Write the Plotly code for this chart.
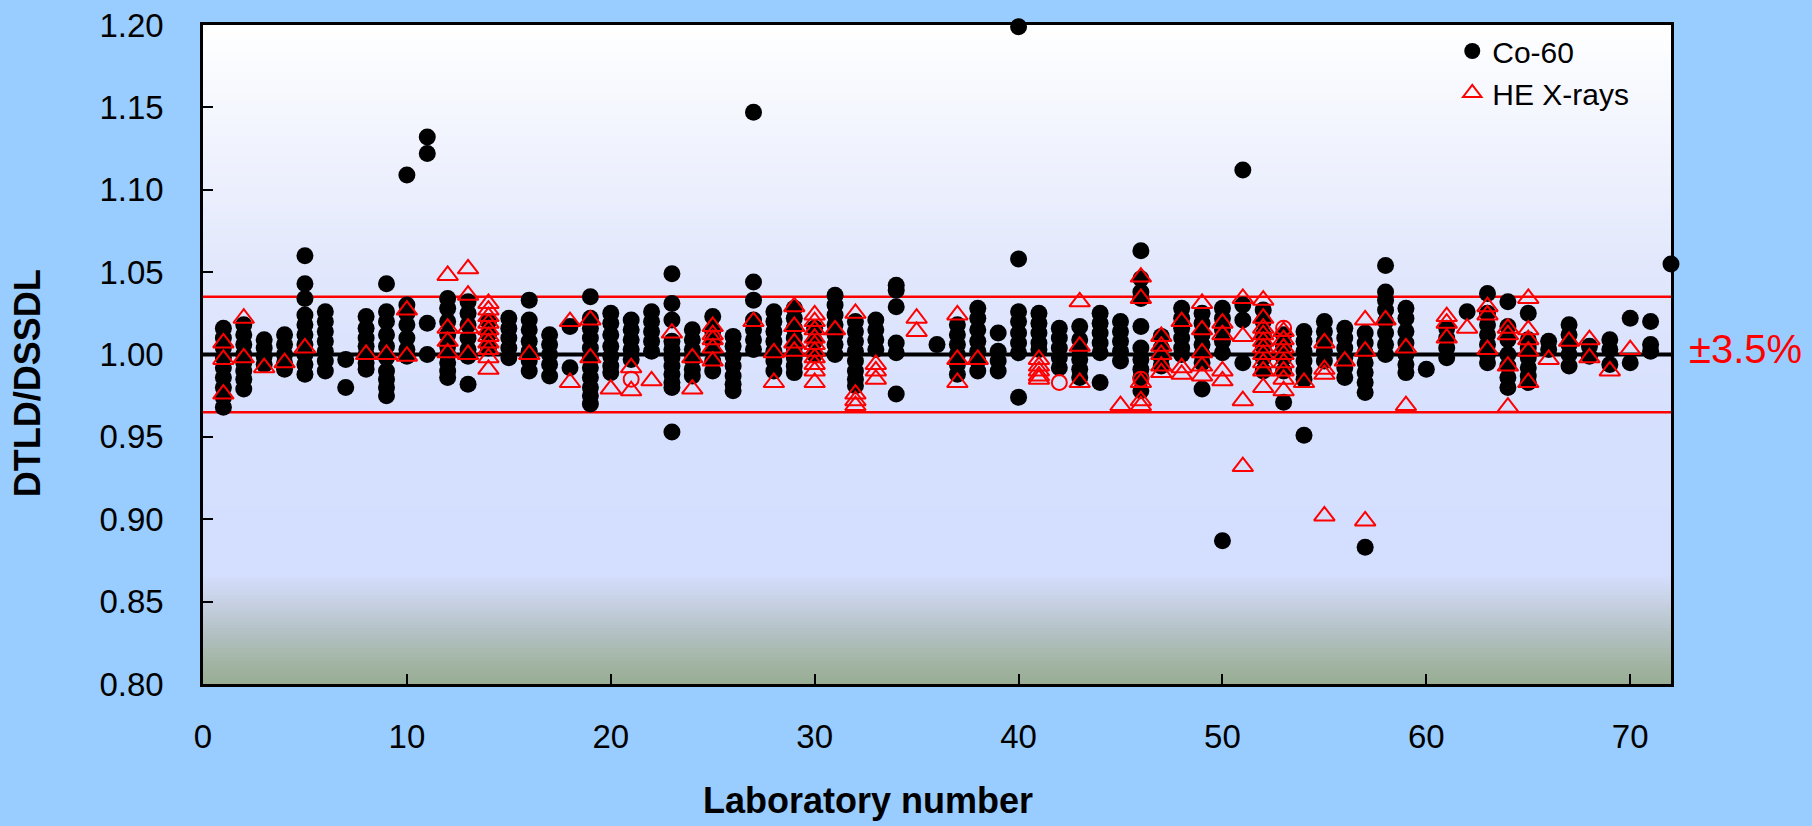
import plotly.graph_objects as go

# ---------------- data ----------------
co60_labs = [1, 2, 3, 4, 5, 6, 7, 8, 9, 10, 11, 12, 13, 14, 15, 16, 17, 18, 19, 20,
             21, 22, 23, 24, 25, 26, 27, 28, 29, 30, 31, 32, 33, 34, 36, 37, 38, 39, 40,
             41, 42, 43, 44, 45, 46, 47, 48, 49, 50, 51, 52, 53, 54, 55, 56, 57, 58, 59,
             60, 61, 62, 63, 64, 65, 66, 67, 68, 69, 70, 71, 72]
co60_values = [
    [1.016, 1.010, 1.004, 0.998, 0.992, 0.986, 0.980, 0.974, 0.968],
    [1.018, 1.012, 1.006, 1.000, 0.995, 0.990, 0.985, 0.979],
    [1.009, 1.004, 0.999, 0.994],
    [1.012, 1.006, 1.000, 0.995, 0.991],
    [1.060, 1.043, 1.034, 1.024, 1.018, 1.012, 1.006, 1.000, 0.994, 0.988],
    [1.026, 1.020, 1.014, 1.008, 1.002, 0.996, 0.990],
    [0.997, 0.980],
    [1.023, 1.016, 1.010, 1.005, 1.000, 0.995, 0.991],
    [1.043, 1.026, 1.020, 1.012, 1.005, 0.998, 0.990, 0.985, 0.980, 0.975],
    [1.109, 1.030, 1.025, 1.018, 1.010, 1.003, 0.999],
    [1.132, 1.122, 1.019, 1.000],
    [1.034, 1.028, 1.020, 1.012, 1.005, 1.000, 0.995, 0.990, 0.986],
    [1.032, 1.025, 1.018, 1.010, 1.003, 0.999, 0.982],
    [1.020, 1.012, 1.004],
    [1.022, 1.016, 1.010, 1.004, 0.998],
    [1.033, 1.021, 1.015, 1.008, 1.002, 0.996, 0.990],
    [1.012, 1.006, 1.000, 0.994, 0.987],
    [1.017, 0.992],
    [1.035, 1.022, 1.016, 1.010, 1.004, 0.998, 0.992, 0.986, 0.980, 0.975, 0.970],
    [1.025, 1.019, 1.012, 1.005, 0.999, 0.993, 0.989],
    [1.021, 1.015, 1.009, 1.003, 0.997],
    [1.026, 1.020, 1.014, 1.008, 1.002],
    [1.049, 1.031, 1.021, 1.008, 1.003, 0.998, 0.993, 0.988, 0.983, 0.980, 0.953],
    [1.015, 1.009, 1.003, 0.997, 0.991, 0.987],
    [1.023, 1.014, 1.008, 1.002, 0.996, 0.990],
    [1.011, 1.005, 0.999, 0.993, 0.987, 0.982, 0.978],
    [1.147, 1.044, 1.033, 1.021, 1.015, 1.009, 1.003],
    [1.026, 1.020, 1.014, 1.008, 1.002, 0.996, 0.990],
    [1.028, 1.022, 1.016, 1.010, 1.004, 0.998, 0.993, 0.989],
    [1.016, 1.008, 1.000],
    [1.036, 1.030, 1.024, 1.018, 1.012, 1.006, 1.000],
    [1.020, 1.014, 1.008, 1.002, 0.996, 0.990, 0.985, 0.981],
    [1.021, 1.015, 1.009, 1.003],
    [1.042, 1.039, 1.029, 1.007, 1.001, 0.976],
    [1.006],
    [1.018, 1.012, 1.006, 1.000, 0.994, 0.988],
    [1.028, 1.022, 1.015, 1.008, 1.002, 0.996, 0.990],
    [1.013, 1.002, 0.996, 0.990],
    [1.199, 1.058, 1.026, 1.020, 1.013, 1.007, 1.001, 0.974],
    [1.025, 1.019, 1.013, 1.007, 1.003],
    [1.016, 1.010, 1.004, 0.998, 0.992],
    [1.017, 1.009, 1.003, 0.997, 0.991, 0.986],
    [1.025, 1.019, 1.013, 1.007, 1.001, 0.983],
    [1.020, 1.014, 1.008, 1.002, 0.996],
    [1.063, 1.046, 1.038, 1.034, 1.017, 1.004, 0.997, 0.991, 0.986, 0.978],
    [1.011, 1.004, 0.998, 0.993],
    [1.028, 1.022, 1.016, 1.010, 1.004, 1.000],
    [1.025, 1.019, 1.012, 1.006, 1.000, 0.995, 0.979],
    [1.028, 1.022, 1.015, 1.008, 1.001, 0.887],
    [1.112, 1.030, 1.021, 0.995],
    [1.027, 1.020, 1.012, 1.005, 0.998, 0.990],
    [1.012, 1.005, 0.998, 0.990, 0.971],
    [1.014, 1.008, 1.002, 0.996, 0.990, 0.985, 0.951],
    [1.020, 1.014, 1.008, 1.002, 0.996],
    [1.016, 1.010, 1.004, 0.998, 0.992, 0.986],
    [1.013, 1.007, 1.001, 0.995, 0.989, 0.983, 0.977, 0.883],
    [1.054, 1.038, 1.033, 1.027, 1.020, 1.013, 1.006, 1.000],
    [1.028, 1.022, 1.014, 1.007, 1.000, 0.994, 0.989],
    [0.991],
    [1.016, 1.010, 1.004, 0.998],
    [1.026],
    [1.037, 1.025, 1.018, 1.012, 1.006, 1.000, 0.995],
    [1.032, 1.017, 1.009, 1.000, 0.993, 0.986, 0.980],
    [1.025, 1.009, 1.004, 0.998, 0.992, 0.987, 0.983],
    [1.008, 1.003],
    [1.018, 1.012, 1.006, 1.000, 0.993],
    [1.005, 0.999],
    [1.009, 1.003, 0.994],
    [1.022, 0.995],
    [1.020, 1.006, 1.002],
    [1.055],
]

hex_labs = [1, 2, 3, 4, 5, 8, 9, 10, 12, 13, 14, 16, 18, 19, 20, 21, 22, 23, 24, 25,
            27, 28, 29, 30, 31, 32, 33, 35, 37, 38, 41, 43, 45, 46, 47, 48, 49, 50, 51,
            52, 53, 54, 55, 56, 57, 58, 59, 61, 62, 63, 64, 65, 66, 67, 68, 69, 70]
hex_values = [
    [1.007, 0.997, 0.976],
    [1.022, 0.998],
    [0.992],
    [0.995],
    [1.004],
    [1.000],
    [1.000],
    [1.027, 0.999],
    [1.048, 1.016, 1.008, 1.001],
    [1.052, 1.036, 1.016, 1.000],
    [1.031, 1.027, 1.023, 1.019, 1.015, 1.011, 1.007, 1.003, 0.998, 0.991],
    [1.000],
    [1.020, 0.983],
    [1.021, 0.998],
    [0.979],
    [0.992, 0.978],
    [0.984],
    [1.013],
    [0.998, 0.979],
    [1.017, 1.012, 1.009, 1.004, 0.996],
    [1.020],
    [1.001, 0.983],
    [1.029, 1.017, 1.007, 1.002],
    [1.024, 1.020, 1.015, 1.010, 1.006, 1.002, 0.998, 0.994, 0.990, 0.983],
    [1.015],
    [1.025, 0.976, 0.972, 0.969],
    [0.994, 0.990, 0.985],
    [1.022, 1.014],
    [1.024, 0.997, 0.983],
    [0.997],
    [0.997, 0.993, 0.990, 0.987, 0.985],
    [1.032, 1.005, 0.983],
    [0.969],
    [1.047, 1.034, 0.983, 0.972, 0.969],
    [1.011, 1.005, 1.000, 0.993, 0.989],
    [1.020, 0.992, 0.988],
    [1.031, 1.015, 1.001, 0.993, 0.987],
    [1.019, 1.012, 0.990, 0.984],
    [1.034, 1.011, 0.972, 0.932],
    [1.033, 1.022, 1.016, 1.012, 1.008, 1.004, 1.000, 0.995, 0.990, 0.980],
    [1.014, 1.009, 1.004, 1.000, 0.995, 0.990, 0.985, 0.978],
    [0.983],
    [1.007, 0.991, 0.988, 0.902],
    [0.996],
    [1.021, 1.002, 0.899],
    [1.021],
    [1.004, 0.969],
    [1.023, 1.019, 1.010],
    [1.016],
    [1.029, 1.024, 1.003],
    [1.016, 1.012, 0.993, 0.968],
    [1.034, 1.015, 1.009, 1.002, 0.983],
    [0.997],
    [1.008],
    [1.009, 0.998],
    [0.990],
    [1.003],
]

# a few HE X-ray results drawn as open red circles
hex_circle_labs = [21, 42, 46, 53]
hex_circle_values = [0.985, 0.983, 0.985, 1.016]

ref_x = [0, 72]
ref_level = 1.00
tol_upper = 1.035
tol_lower = 0.965
x_ticks = [0, 10, 20, 30, 40, 50, 60, 70]
y_ticks = [0.80, 0.85, 0.90, 0.95, 1.00, 1.05, 1.10, 1.15, 1.20]


def expand(labs, values):
    xs, ys = [], []
    for lab, vals in zip(labs, values):
        for v in vals:
            xs.append(lab)
            ys.append(v)
    return xs, ys


co_x, co_y = expand(co60_labs, co60_values)
he_x, he_y = expand(hex_labs, hex_values)

FONT = "Arial, Liberation Sans, sans-serif"

fig = go.Figure()

# reference lines
fig.add_trace(go.Scatter(x=ref_x, y=[tol_upper] * 2, mode="lines",
                         line=dict(color="#FF0000", width=2.5), showlegend=False,
                         hoverinfo="skip"))
fig.add_trace(go.Scatter(x=ref_x, y=[tol_lower] * 2, mode="lines",
                         line=dict(color="#FF0000", width=2.5), showlegend=False,
                         hoverinfo="skip"))
fig.add_trace(go.Scatter(x=ref_x, y=[ref_level] * 2, mode="lines",
                         line=dict(color="#000000", width=4), showlegend=False,
                         hoverinfo="skip"))

fig.add_trace(go.Scatter(x=co_x, y=co_y, mode="markers", name="Co-60",
                         marker=dict(symbol="circle", size=17, color="#000000"),
                         cliponaxis=False))
fig.add_trace(go.Scatter(x=he_x, y=he_y, mode="markers", name="HE X-rays",
                         marker=dict(symbol="triangle-up-open", size=18,
                                     color="#FF0000", line=dict(width=2, color="#FF0000")),
                         cliponaxis=False))
fig.add_trace(go.Scatter(x=hex_circle_labs, y=hex_circle_values, mode="markers",
                         showlegend=False,
                         marker=dict(symbol="circle-open", size=15, color="#FF0000",
                                     line=dict(width=2, color="#FF0000"))))

# gradient plot background (style only)
stops = [(0.800, (152, 173, 148)), (0.812, (161, 180, 162)), (0.830, (178, 192, 194)),
         (0.850, (199, 209, 228)), (0.866, (212, 222, 254)), (0.950, (213, 223, 254)),
         (1.050, (225, 231, 252)), (1.200, (255, 255, 255))]


def color_at(v):
    for (v0, c0), (v1, c1) in zip(stops[:-1], stops[1:]):
        if v0 <= v <= v1:
            t = (v - v0) / (v1 - v0)
            return "rgb(%d,%d,%d)" % tuple(round(a + (b - a) * t) for a, b in zip(c0, c1))
    return "rgb(255,255,255)"


shapes = []
n_bands = 200
for i in range(n_bands):
    y0 = 0.80 + 0.40 * i / n_bands
    y1 = 0.80 + 0.40 * (i + 1) / n_bands
    shapes.append(dict(type="rect", xref="x domain", yref="y", x0=0, x1=1,
                       y0=y0, y1=y1 + 0.0005, fillcolor=color_at((y0 + y1) / 2),
                       line=dict(width=0), layer="below"))

fig.update_layout(
    width=1812, height=826,
    paper_bgcolor="#99CCFF", plot_bgcolor="#D5DFFE",
    margin=dict(l=203, r=141, t=25, b=142, autoexpand=False),
    font=dict(family=FONT, color="#000000"),
    shapes=shapes,
    showlegend=True,
    legend=dict(x=0.851, y=1.0, xanchor="left", yanchor="top",
                bgcolor="rgba(0,0,0,0)", font=dict(size=30, family=FONT),
                itemsizing="trace", tracegroupgap=0),
    annotations=[
        dict(text="±3.5%", xref="x domain", yref="y", x=1.0, y=1.0,
             xanchor="left", yanchor="middle", xshift=16, yshift=6, showarrow=False,
             font=dict(size=40, color="#FF0000", family=FONT)),
        dict(text="<b>Laboratory number</b>", xref="paper", yref="paper",
             x=0.453, y=-0.2115, xanchor="center", yanchor="bottom", showarrow=False,
             font=dict(size=36, family=FONT)),
        dict(text="<b>DTLD/DSSDL</b>", xref="paper", yref="paper",
             x=-0.119, y=0.457, xanchor="center", yanchor="middle", textangle=-90,
             showarrow=False, font=dict(size=36, family=FONT)),
    ],
)

fig.update_xaxes(range=[0, 72], tickvals=x_ticks, ticks="inside", ticklen=10,
                 tickwidth=1.5, tickcolor="#000000", showgrid=False, zeroline=False,
                 showline=True, linecolor="#000000", linewidth=2.5, mirror=True,
                 tickfont=dict(size=33, family=FONT), ticklabelstandoff=22)
fig.update_yaxes(range=[0.80, 1.20], tickvals=y_ticks, tickformat=".2f", ticks="inside",
                 ticklen=10, tickwidth=1.5, tickcolor="#000000", showgrid=False,
                 zeroline=False, showline=True, linecolor="#000000", linewidth=2.5,
                 mirror=True, tickfont=dict(size=33, family=FONT), ticklabelstandoff=30)

fig.write_html("out.html", config={"displayModeBar": False})
